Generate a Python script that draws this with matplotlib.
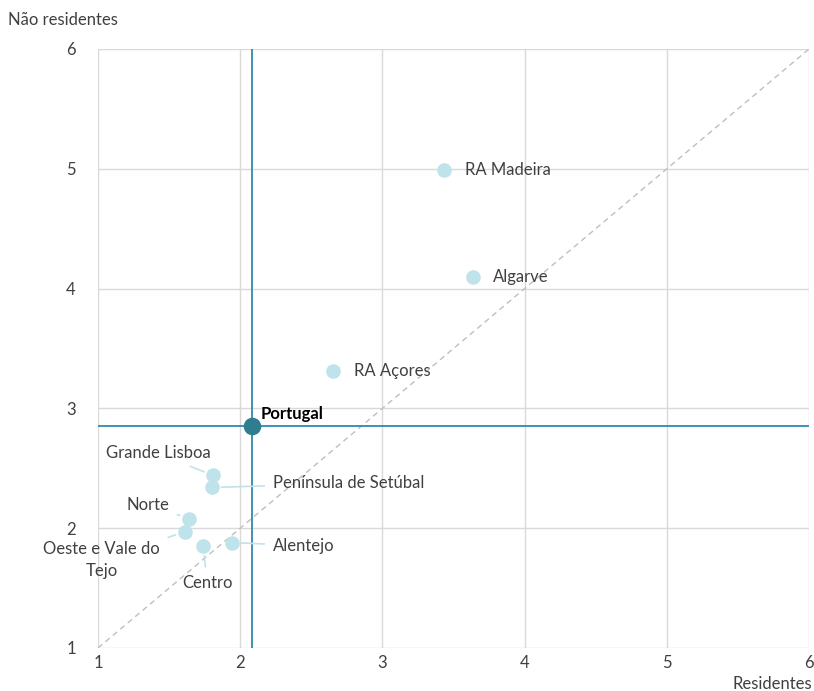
import numpy as np
import matplotlib.pyplot as plt

plt.rcParams["font.family"] = ["Lato", "DejaVu Sans"]

# Data: residentes (x) vs não residentes (y)
regions = ["RA Madeira", "Algarve", "RA Açores", "Grande Lisboa",
           "Península de Setúbal", "Norte", "Oeste e Vale do\nTejo",
           "Centro", "Alentejo"]
residentes = [3.43, 3.64, 2.65, 1.81, 1.80, 1.64, 1.61, 1.74, 1.94]
nao_residentes = [4.99, 4.10, 3.31, 2.44, 2.34, 2.08, 1.97, 1.85, 1.88]
pt_res, pt_nres = 2.08, 2.85
ticks = [1, 2, 3, 4, 5, 6]

# label offsets (pixels) and alignment
offsets = [(21, 0, "left"), (20, 0, "left"), (21, 0, "left"), (-55, 22, "center"),
           (61, 4, "left"), (-41, 14, "center"), (-83, -28, "center"),
           (4, -37, "center"), (41, -3, "left")]
leader = [False, False, False, True, True, True, True, True, True]

light = "#BEE3EA"
line_c = "#2F8AAB"
dark = "#2E7D90"
txt = "#404040"
fs = 12

fig = plt.figure(figsize=(8.14, 6.91), dpi=100)
ax = fig.add_axes([98 / 814, 1 - 648 / 691, (809 - 98) / 814, (648 - 49) / 691])

ax.set_xlim(1, 6)
ax.set_ylim(1, 6)
ax.set_xticks(ticks)
ax.set_yticks(ticks)
ax.grid(True, color="#D9D9D9", linewidth=1)
ax.set_axisbelow(True)
for s in ax.spines.values():
    s.set_visible(False)
ax.tick_params(length=0, labelsize=fs, colors=txt)
ax.tick_params(axis="x", pad=5)
ax.tick_params(axis="y", pad=16)

ax.plot([1, 6], [1, 6], ls=(0, (4, 3)), color="#BFBFBF", lw=1, zorder=1)
ax.axvline(pt_res, color=line_c, lw=1.3, zorder=2)
ax.axhline(pt_nres, color=line_c, lw=1.3, zorder=2)

ax.scatter(residentes, nao_residentes, s=110, color=light, zorder=4, linewidths=0)
ax.scatter([pt_res], [pt_nres], s=160, color=dark, zorder=5, linewidths=0)
ax.annotate("Portugal", (pt_res, pt_nres), xytext=(9, 12), textcoords="offset pixels",
            ha="left", va="center", fontsize=fs, fontweight="bold", color="black")

for name, x, y, (dx, dy, ha), ld in zip(regions, residentes, nao_residentes, offsets, leader):
    props = None
    if ld:
        props = dict(arrowstyle="-", color=light, lw=1.2, shrinkA=4, shrinkB=7)
    ax.annotate(name, (x, y), xytext=(dx, dy), textcoords="offset pixels",
                ha=ha, va="center", fontsize=fs, color=txt, arrowprops=props,
                linespacing=1.45)

fig.text(8 / 814, 1 - 20 / 691, "Não residentes", ha="left", va="center",
         fontsize=fs, color=txt)
fig.text(812 / 814, 1 - 684 / 691, "Residentes", ha="right", va="center",
         fontsize=fs, color=txt)

fig.savefig("out.png", dpi=100)
plt.close(fig)
